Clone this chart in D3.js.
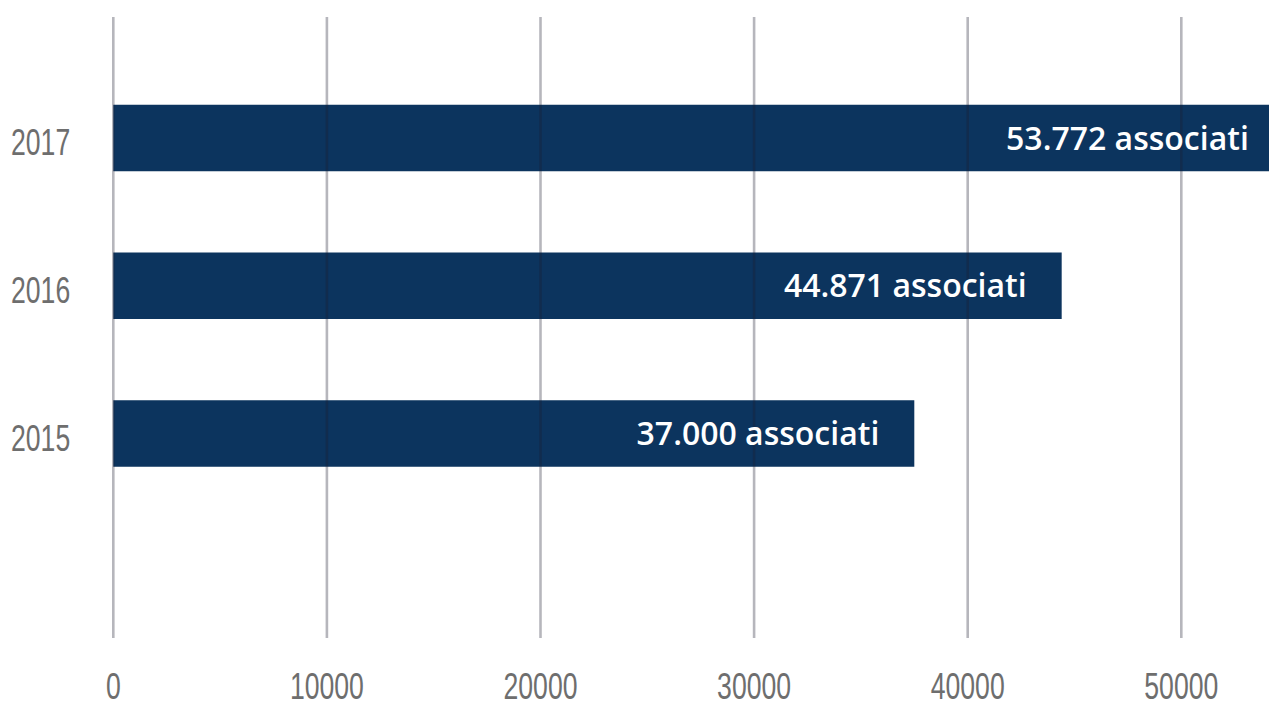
<!DOCTYPE html>
<html>
<head>
<meta charset="utf-8">
<script src="https://cdn.jsdelivr.net/npm/d3@7"></script>
<style>
  html, body { margin: 0; padding: 0; background: #ffffff; overflow: hidden; }
</style>
</head>
<body>
<div id="chart"></div>
<script>
// Data
const years = ['2017', '2016', '2015'];
const members = [54800, 44400, 37500];
const labels = ['53.772 associati', '44.871 associati', '37.000 associati'];
const ticks = [0, 10000, 20000, 30000, 40000, 50000];

const width = 1269;
const height = 707;

const barColor = '#0c345e';
const gridColor = '#1b1d30';
const textGray = '#6e6e6e';

const svg = d3.select('#chart')
    .append('svg')
    .attr('width', width)
    .attr('height', height);

const x = d3.scaleLinear()
    .domain([0, 50000])
    .range([113.3, 1181.3]);

// centres of the three bars
const y = d3.scalePoint()
    .domain(years)
    .range([138, 433.5]);

const barHeight = 66.5;

// Bars
svg.selectAll('rect.bar')
    .data(years)
    .enter()
    .append('rect')
        .attr('class', 'bar')
        .attr('x', x(0))
        .attr('y', d => y(d) - barHeight / 2)
        .attr('width', (d, i) => x(members[i]) - x(0))
        .attr('height', barHeight)
        .attr('fill', barColor);

// Grid lines sit on top of the bars, semi transparent
svg.selectAll('line.grid')
    .data(ticks)
    .enter()
    .append('line')
        .attr('class', 'grid')
        .attr('x1', d => x(d))
        .attr('x2', d => x(d))
        .attr('y1', 17)
        .attr('y2', 638)
        .attr('stroke', gridColor)
        .attr('stroke-opacity', 0.32)
        .attr('stroke-width', 2.6);

// Bar labels
svg.selectAll('text.value')
    .data(years)
    .enter()
    .append('text')
        .attr('class', 'value')
        .attr('x', (d, i) => x(members[i]) - 35)
        .attr('y', d => y(d) + 11.5)
        .attr('text-anchor', 'end')
        .attr('font-family', '"Open Sans", sans-serif')
        .attr('font-weight', 600)
        .attr('font-size', '32px')
        .attr('fill', '#ffffff')
        .text((d, i) => labels[i]);

// Year labels (condensed look)
svg.selectAll('text.year')
    .data(years)
    .enter()
    .append('text')
        .attr('class', 'year')
        .attr('x', 11)
        .attr('y', d => y(d) + 17)
        .attr('font-family', '"Liberation Sans", sans-serif')
        .attr('font-size', '37px')
        .attr('fill', textGray)
        .attr('textLength', d => d.length * 14.8)
        .attr('lengthAdjust', 'spacingAndGlyphs')
        .text(d => d);

// X tick labels
svg.selectAll('text.tick')
    .data(ticks)
    .enter()
    .append('text')
        .attr('class', 'tick')
        .attr('x', d => x(d))
        .attr('y', 699)
        .attr('text-anchor', 'middle')
        .attr('font-family', '"Liberation Sans", sans-serif')
        .attr('font-size', '36px')
        .attr('fill', textGray)
        .attr('textLength', d => String(d).length * 14.8)
        .attr('lengthAdjust', 'spacingAndGlyphs')
        .text(d => String(d));
</script>
</body>
</html>
